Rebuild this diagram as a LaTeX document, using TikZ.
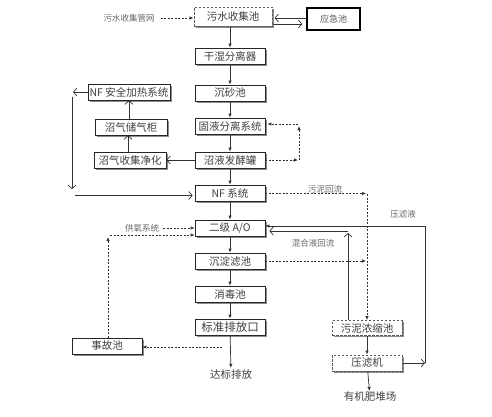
\documentclass[tikz,border=0pt]{standalone}
\usepackage{fontspec}
\setmainfont{Noto Sans CJK SC}
\usetikzlibrary{arrows.meta,shadows}
\begin{document}
\begin{tikzpicture}[x=1pt,y=-1pt,
  shad/.style={drop shadow={shadow xshift=1.5pt,shadow yshift=-1.5pt,fill=black!45,opacity=1}},
  box/.style={draw=black!85,fill=white,line width=0.7pt,minimum width=70pt,minimum height=16pt,inner sep=0pt,
    text=black!75,font=\fontsize{10.5}{12}\selectfont,shad},
  dbox/.style={box,draw=black!65,line width=1pt,dash pattern=on 2.5pt off 1.5pt},
  lab/.style={text=black!60,font=\fontsize{8.5}{10}\selectfont,inner sep=1pt},
  txt/.style={text=black!75,font=\fontsize{10.5}{12}\selectfont,inner sep=1pt},
  con/.style={draw=black!80,line width=0.7pt},
  fa/.style={con,-{Latex[length=4pt,width=3.5pt]}},
  oa/.style={con,-{Straight Barb[length=3.5pt,width=8pt]}},
  da/.style={fa,dash pattern=on 2pt off 1.5pt}]
\useasboundingbox (0,0) rectangle (492,416);
% main column
\node[dbox,minimum width=78pt,minimum height=19pt] (sw) at (233,16.5) {污水收集池};
\node[box] (gs) at (230,56) {干湿分离器};
\node[box] (cs) at (230,93) {沉砂池};
\node[box] (gy) at (230,126) {固液分离系统};
\node[box] (zy) at (230,160) {沼液发酵罐};
\node[box] (nf) at (230,193) {NF 系统};
\node[box] (ao) at (230,228) {二级 A/O};
\node[box] (cd) at (230,261) {沉淀滤池};
\node[box] (xd) at (230,294) {消毒池};
\node[box,font=\fontsize{11.5}{13}\selectfont] (bz) at (230,327) {标准排放口};
\node[txt] (db) at (231,374) {达标排放};
% left column
\node[box,minimum width=82pt] (nfh) at (129,92) {NF 安全加热系统};
\node[box,minimum width=72pt] (cq) at (131,127) {沼气储气柜};
\node[box,minimum width=72pt] (sj) at (130,160) {沼气收集净化};
\node[box] (sg) at (107,346) {事故池};
% right
\node[draw=black,line width=1.3pt,fill=white,minimum width=53pt,minimum height=22pt,inner sep=0pt,
  text=black!65,font=\fontsize{9}{11}\selectfont] (yj) at (333.5,19) {应急池};
\node[dbox,minimum height=15pt] (wn) at (367,328) {污泥浓缩池};
\node[dbox] (yl) at (367,363) {压滤机};
\node[txt] (yf) at (370,397) {有机肥堆场};
% labels
\node[lab] (gw) at (129,18) {污水收集管网};
\node[lab] (wh) at (325,189) {污泥回流};
\node[lab] (ylq) at (403,214) {压滤液};
\node[lab] (hh) at (313,243) {混合液回流};
\node[lab] (gyx) at (142,228) {供氧系统};
% coordinates
\coordinate (r1) at (0,18);
\coordinate (r2) at (0,24);
\coordinate (c1) at (73,92);
\coordinate (c2) at (72,97);
\coordinate (c3) at (72,189);
\coordinate (c4) at (75,195.5);
\coordinate (c5) at (298,160);
\coordinate (c6) at (299,160);
\coordinate (c7) at (299,126);
\coordinate (c8) at (298,124);
\coordinate (c9) at (366,193.5);
\coordinate (c10) at (367,194);
\coordinate (c11) at (425,363);
\coordinate (c12) at (425,226);
\coordinate (c13) at (348,233);
\coordinate (c14) at (348,231);
\coordinate (c15) at (108,237);
\coordinate (c16) at (110,235);
\coordinate (c17) at (222,347);
% connectors
\draw[da] (gw.east) ++(5,0) -- (sw.west |- r1);
\draw[oa,shorten >=2pt] (yj.west |- r1) -- (sw.east |- r1);
\draw[oa,shorten >=4pt] (sw.east |- r2) -- (yj.west |- r2);
\draw[fa] (gs.north |- sw.south) -- (gs.north);
\draw[fa] (gs) -- (cs);
\draw[fa] (cs) -- (gy);
\draw[fa] (gy) -- (zy);
\draw[fa] (zy) -- (nf);
\draw[fa] (nf) -- (ao);
\draw[fa] (ao) -- (cd);
\draw[fa] (cd) -- (xd);
\draw[fa] (xd) -- (bz);
\draw[fa] (bz) -- (db);
\draw[oa] (zy.west) -- (sj.east);
\draw[oa] (sj.north -| 128,0) -- (cq.south -| 128,0);
\draw[oa] (cq.north -| 129,0) -- (nfh.south -| 129,0);
\draw[oa] (nfh.west) -- (c1);
\draw[oa] (c2) -- (c3);
\draw[oa,shorten >=2pt] (c4) -- (c4 -| nf.west);
\draw[da] (zy.east) -- (c5);
\draw[da] (c6) -- (c7);
\draw[da,shorten >=2pt] (c8) -- (c8 -| gy.east);
\draw[da] (nf.east |- c9) -- (c9);
\draw[da] (c10) -- (wn.north);
\draw[da] (cd.east) -- (cd.east -| c9);
\draw[oa] (yl.east) -- (c11);
\draw[fa] (c11) -- (c12) -- (c12 -| ao.east);
\draw[oa] (c13 |- wn.north) -- (c13);
\draw[oa,shorten >=4pt] (c14) -- (c14 -| ao.east);
\draw[da] (gyx.east) ++(3,0) -- (ao.west |- gyx.east);
\draw[da] (sg.north -| c15) -- (c15);
\draw[da] (c16) -- (c16 -| ao.west);
\draw[da] (c17) -- (sg.east |- c17);
\draw[fa] (wn) -- (yl);
\draw[fa] (yl) -- (yf);
\end{tikzpicture}
\end{document}
